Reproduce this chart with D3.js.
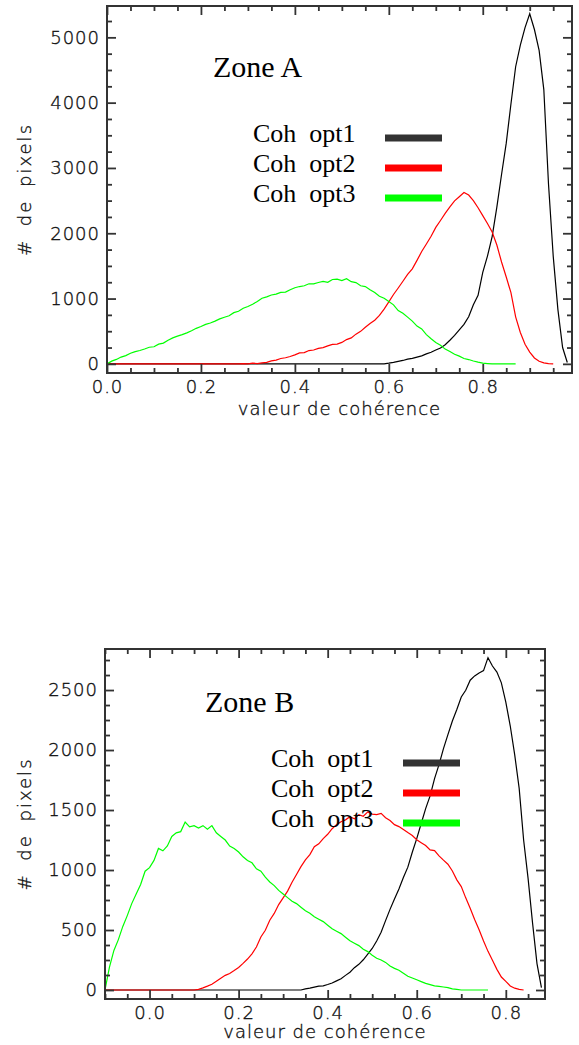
<!DOCTYPE html>
<html>
<head>
<meta charset="utf-8">
<script src="https://cdn.jsdelivr.net/npm/d3@7"></script>
<style>
  body { margin: 0; background: #fff; }
  svg { display: block; }
  .tick text { font-family: "DejaVu Sans", sans-serif; font-weight: 200; fill: #111; stroke: #111; stroke-width: 0.35px; letter-spacing: 1px; }
  .axis-title { font-family: "DejaVu Sans", sans-serif; font-weight: 200; fill: #111; stroke: #111; stroke-width: 0.35px; }
  .legend text { font-family: "Liberation Serif", "Times New Roman", serif; white-space: pre; fill: #000; }
</style>
</head>
<body>
<svg width="579" height="1045"></svg>
<script>
// histogram bins: 0.01 wide
var binWidth = 0.01;
var binStartA = 0.0;
var binStartB = -0.10;

var seriesNames = ['Coh  opt1', 'Coh  opt2', 'Coh  opt3'];
var seriesColors = ['#000000', '#ff0000', '#00ff00'];
var legendColors = ['#333333', '#ff0000', '#00ff00'];

// Zone A, 0.00 .. 0.98
var zoneA_opt1 = [
  0,0,0,0,0,0,0,0,0,0, 0,0,0,0,0,0,0,0,0,0, 0,0,0,0,0,0,0,0,0,0,
  0,0,0,0,0,0,0,0,0,0, 0,0,0,0,0,0,0,0,0,0, 0,0,0,0,0,0,0,0,0,0,
  10,22,38,52,72,84,104,122,152,178,
  212,244,292,362,436,522,604,722,905,1050,
  1400,1650,1950,2400,2900,3380,3980,4550,4880,5150,
  5360,5120,4800,4200,2750,1650,830,250,20
];
// Zone A, 0.00 .. 0.95
var zoneA_opt2 = [
  0,0,0,0,0,0,0,0,0,0, 0,0,0,0,0,0,0,0,0,0, 0,0,0,0,0,0,0,0,0,
  5,0,12,4,15,22,45,58,82,94,
  112,138,168,172,204,212,238,248,275,298,
  302,328,372,398,455,498,560,618,668,742,
  838,948,1062,1162,1265,1370,1455,1585,1720,1835,
  1955,2090,2195,2305,2405,2495,2560,2625,2585,2500,
  2390,2270,2150,2020,1820,1560,1330,1090,720,480,
  300,180,90,40,15,5,0
];
// Zone A, 0.00 .. 0.87
var zoneA_opt3 = [
  0,42,68,104,126,162,188,204,228,254,
  262,302,318,362,398,424,448,474,506,544,
  572,604,626,655,688,714,736,784,806,852,
  878,914,956,1004,1026,1054,1068,1094,1098,1134,
  1166,1184,1196,1226,1224,1246,1262,1248,1292,1298,
  1276,1304,1258,1244,1196,1184,1136,1094,1036,1004,
  956,904,816,774,716,654,578,534,448,384,
  326,284,226,188,146,118,82,66,44,26,
  10,5,0,0,0,0,0,0
];

// Zone B, -0.10 .. 0.88
var zoneB_opt1 = [
  0,0,0,0,0,0,0,0,0,0, 0,0,0,0,0,0,0,0,0,0, 0,0,0,0,0,0,0,0,0,0,
  0,0,0,0,0,0,0,0,0,0, 0,0,0,0,0,
  10,15,24,32,35,46,58,76,94,122,
  148,186,214,252,298,346,408,482,578,672,
  758,842,938,1024,1148,1262,1388,1512,1618,1762,
  1878,2012,2128,2242,2338,2442,2498,2582,2618,2642,
  2662,2770,2700,2650,2560,2400,2200,1960,1680,1250,
  930,560,220,20
];
// Zone B, -0.10 .. 0.84
var zoneB_opt2 = [
  0,0,0,0,0,0,0,0,0,0, 0,0,0,0,0,0,0,0,0,0, 0,
  5,18,32,48,72,98,122,138,162,188,
  222,258,302,358,442,498,582,638,712,768,
  824,898,962,1028,1084,1128,1194,1218,1262,1298,
  1344,1378,1402,1418,1444,1426,1462,1448,1484,1466,
  1462,1472,1436,1412,1378,1362,1338,1312,1288,1252,
  1228,1204,1168,1162,1118,1082,1048,992,918,862,
  768,682,588,502,408,322,248,172,108,72,
  34,15,5,0
];
// Zone B, -0.10 .. 0.76
var zoneB_opt3 = [
  0,190,330,420,530,620,720,800,880,990,
  1020,1080,1180,1160,1200,1280,1310,1320,1400,1360,
  1370,1350,1370,1340,1370,1310,1280,1250,1200,1180,
  1150,1110,1080,1060,1010,990,940,900,870,830,
  800,770,740,720,690,660,640,610,590,570,
  540,510,490,470,440,410,390,370,340,320,
  290,265,250,230,200,180,165,140,115,100,
  85,70,55,45,35,30,25,20,10,5,
  0,0,0,0,0,0,0
];

var xTicksA = [0.0, 0.2, 0.4, 0.6, 0.8];
var yTicksA = [0, 1000, 2000, 3000, 4000, 5000];
var xTicksB = [0.0, 0.2, 0.4, 0.6, 0.8];
var yTicksB = [0, 500, 1000, 1500, 2000, 2500];

var panels = [
  {
    zone: 'Zone A', binStart: binStartA,
    series: [zoneA_opt1, zoneA_opt2, zoneA_opt3],
    box: { left: 107, top: 6, right: 572, bottom: 373 },
    xDomain: [0, 0.99], yDomain: [-140, 5480],
    xTicks: xTicksA, yTicks: yTicksA, xMinor: 0.05, yMinor: 250,
    zoneAt: [213, 77], legendAt: [253, 142], sampleAt: [385, 442],
    titleY: 415
  },
  {
    zone: 'Zone B', binStart: binStartB,
    series: [zoneB_opt1, zoneB_opt2, zoneB_opt3],
    box: { left: 105, top: 649, right: 545, bottom: 999 },
    xDomain: [-0.1, 0.888], yDomain: [-75, 2842],
    xTicks: xTicksB, yTicks: yTicksB, xMinor: 0.05, yMinor: 125,
    zoneAt: [205, 712], legendAt: [271, 767], sampleAt: [403, 460],
    titleY: 1038
  }
];

var svg = d3.select('svg');

panels.forEach(function(p) { drawPanel(p); });

function drawPanel(p) {
    var b = p.box;
    var x = d3.scaleLinear().domain(p.xDomain).range([b.left, b.right]);
    var y = d3.scaleLinear().domain(p.yDomain).range([b.bottom, b.top]);

    var g = svg.append('g');

    var line = d3.line()
        .x(function(d, i) { return x(p.binStart + i * binWidth); })
        .y(function(d) { return y(d); });

    // curves: opt1 (black), opt2 (red), opt3 (green) on top
    p.series.forEach(function(values, k) {
        g.append('path')
            .datum(values)
            .attr('fill', 'none')
            .attr('stroke', seriesColors[k])
            .attr('stroke-width', 1.2)
            .attr('d', line);
    });

    // minor tick positions
    var xMinorTicks = d3.range(Math.ceil(p.xDomain[0] / p.xMinor) * p.xMinor, p.xDomain[1], p.xMinor)
        .filter(function(v) { return !p.xTicks.some(function(t) { return Math.abs(t - v) < 1e-6; }); });
    var yMinorTicks = d3.range(0, p.yDomain[1], p.yMinor)
        .filter(function(v) { return p.yTicks.indexOf(v) < 0; });

    var major = 9, minor = 5;

    // bottom axis with labels
    var axB = g.append('g').attr('transform', 'translate(0,' + b.bottom + ')');
    axB.call(d3.axisBottom(x).tickValues(p.xTicks).tickFormat(d3.format('.1f'))
        .tickSizeInner(-major).tickSizeOuter(0).tickPadding(7));
    axB.append('g').call(d3.axisBottom(x).tickValues(xMinorTicks).tickFormat('')
        .tickSizeInner(-minor).tickSizeOuter(0));

    // top mirror axis
    var axT = g.append('g').attr('transform', 'translate(0,' + b.top + ')');
    axT.call(d3.axisTop(x).tickValues(p.xTicks).tickFormat('').tickSizeInner(-major).tickSizeOuter(0));
    axT.append('g').call(d3.axisTop(x).tickValues(xMinorTicks).tickFormat('')
        .tickSizeInner(-minor).tickSizeOuter(0));

    // left axis with labels
    var axL = g.append('g').attr('transform', 'translate(' + b.left + ',0)');
    axL.call(d3.axisLeft(y).tickValues(p.yTicks).tickFormat(d3.format('d'))
        .tickSizeInner(-major).tickSizeOuter(0).tickPadding(7));
    axL.append('g').call(d3.axisLeft(y).tickValues(yMinorTicks).tickFormat('')
        .tickSizeInner(-minor).tickSizeOuter(0));

    // right mirror axis
    var axR = g.append('g').attr('transform', 'translate(' + b.right + ',0)');
    axR.call(d3.axisRight(y).tickValues(p.yTicks).tickFormat('').tickSizeInner(-major).tickSizeOuter(0));
    axR.append('g').call(d3.axisRight(y).tickValues(yMinorTicks).tickFormat('')
        .tickSizeInner(-minor).tickSizeOuter(0));

    g.selectAll('.domain').remove();
    g.selectAll('.tick line').attr('stroke', '#333').attr('stroke-width', 1.8);
    g.selectAll('.tick text').attr('font-size', 18).attr('fill', '#111');

    // frame
    g.append('rect')
        .attr('x', b.left).attr('y', b.top)
        .attr('width', b.right - b.left).attr('height', b.bottom - b.top)
        .attr('fill', 'none')
        .attr('stroke', '#333')
        .attr('stroke-width', 2);

    // axis titles
    g.append('text')
        .attr('class', 'axis-title')
        .attr('x', (b.left + b.right) / 2)
        .attr('y', p.titleY)
        .attr('text-anchor', 'middle')
        .attr('font-size', 18)
        .style('letter-spacing', '1px')
        .text('valeur de cohérence');

    g.append('text')
        .attr('class', 'axis-title')
        .attr('transform', 'translate(31,' + ((b.top + b.bottom) / 2) + ') rotate(-90)')
        .attr('text-anchor', 'middle')
        .attr('font-size', 18)
        .style('letter-spacing', '2px')
        .style('word-spacing', '5px')
        .text('# de pixels');

    // zone label + legend
    var lg = g.append('g').attr('class', 'legend');
    lg.append('text')
        .attr('x', p.zoneAt[0]).attr('y', p.zoneAt[1])
        .attr('font-size', 30)
        .text(p.zone);

    seriesNames.forEach(function(name, k) {
        var by = p.legendAt[1] + k * 30;
        lg.append('text')
            .attr('x', p.legendAt[0]).attr('y', by)
            .attr('font-size', 26)
            .text(name);
        lg.append('line')
            .attr('x1', p.sampleAt[0]).attr('x2', p.sampleAt[1])
            .attr('y1', by - 4).attr('y2', by - 4)
            .attr('stroke', legendColors[k])
            .attr('stroke-width', 7);
    });
}
</script>
</body>
</html>
